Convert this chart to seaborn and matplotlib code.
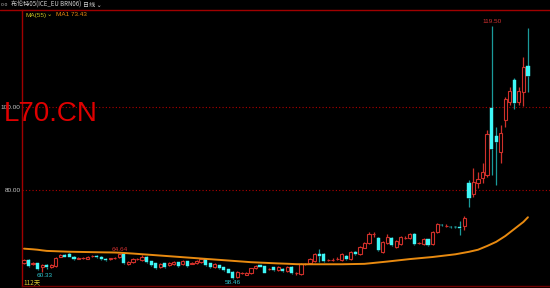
import numpy as np
import pandas as pd
import matplotlib
matplotlib.use("Agg")
import matplotlib.pyplot as plt
import seaborn as sns
from matplotlib.lines import Line2D

# ---------------- data ----------------
opens = [62.33, 63.13, 62.25, 62.33, 61.37, 61.92, 61.37, 61.68, 63.93, 64.34,
         64.58, 63.93, 63.45, 63.50, 63.44, 64.05, 64.17, 63.93, 63.44, 63.40,
         63.55, 63.78, 64.58, 62.17, 62.57, 63.25, 63.13, 63.78, 62.82, 62.33,
         61.37, 62.33, 61.85, 62.17, 62.57, 62.17, 62.82, 62.28, 62.33, 62.57,
         63.30, 62.33, 61.52, 61.92, 61.37, 60.89, 60.31, 59.11, 59.98, 59.52,
         59.93, 61.13, 61.92, 61.68, 60.85, 61.37, 60.72, 60.96, 60.48, 61.44,
         59.95, 59.76, 62.10, 62.41, 62.89, 64.58, 64.58, 63.08, 63.08, 63.30,
         63.13, 64.10, 63.37, 65.06, 64.58, 66.02, 67.23, 69.30, 68.43, 65.06,
         67.23, 68.43, 66.26, 66.99, 68.38, 68.43, 69.40, 67.20, 66.99, 68.19,
         66.99, 69.88, 71.62, 71.28, 71.20, 71.20, 71.20, 71.30, 81.69, 79.03,
         81.76, 82.90, 83.60, 99.87, 92.91, 89.16, 96.87, 101.30, 106.50, 101.30,
         103.70, 109.90]
highs = [63.40, 63.30, 62.60, 62.50, 62.10, 62.10, 62.20, 63.80, 64.60, 64.50,
         64.70, 64.00, 63.80, 63.80, 64.20, 64.40, 64.30, 64.00, 63.50, 63.70,
         63.90, 64.64, 64.60, 62.90, 63.60, 63.60, 64.30, 64.00, 63.00, 62.50,
         62.50, 62.50, 62.60, 62.80, 62.70, 63.20, 63.00, 62.60, 63.20, 63.60,
         63.50, 62.50, 62.40, 62.00, 61.50, 61.00, 60.50, 60.50, 60.30, 60.30,
         61.30, 61.90, 62.00, 61.80, 61.20, 61.50, 61.60, 61.10, 61.60, 61.60,
         60.30, 62.30, 62.50, 63.60, 64.80, 65.80, 64.70, 63.40, 63.50, 63.80,
         64.80, 64.30, 65.30, 65.20, 66.50, 67.50, 69.90, 69.90, 68.60, 67.70,
         69.30, 68.60, 67.90, 68.90, 68.80, 69.70, 69.60, 67.50, 68.40, 68.30,
         70.10, 72.00, 71.80, 71.70, 71.40, 71.40, 72.50, 73.70, 82.41, 85.30,
         84.30, 86.50, 94.40, 119.50, 95.20, 95.70, 102.40, 104.80, 107.00, 104.90,
         112.00, 119.00]
lows = [62.10, 61.50, 62.00, 60.70, 60.33, 61.00, 61.10, 61.50, 63.80, 63.80,
        63.80, 63.10, 63.30, 63.30, 63.30, 63.90, 63.60, 63.10, 62.90, 63.20,
        63.40, 63.60, 62.20, 62.00, 62.40, 63.10, 63.00, 62.40, 61.80, 60.90,
        61.20, 61.30, 61.70, 62.00, 61.50, 62.00, 61.50, 62.10, 62.20, 62.40,
        61.80, 61.30, 61.30, 60.90, 60.50, 59.90, 58.46, 58.90, 59.80, 59.40,
        59.80, 61.00, 61.40, 59.90, 60.70, 60.50, 60.50, 60.30, 60.30, 59.80,
        59.60, 59.60, 61.90, 62.20, 62.70, 62.65, 62.70, 62.90, 62.90, 63.10,
        63.00, 63.10, 63.20, 64.40, 64.40, 65.90, 67.10, 68.70, 65.30, 64.90,
        67.00, 66.50, 66.00, 66.80, 68.20, 68.30, 66.70, 67.00, 66.80, 66.50,
        66.80, 69.70, 71.30, 71.10, 70.90, 70.90, 69.20, 70.40, 75.90, 78.30,
        80.50, 81.70, 83.10, 83.60, 81.20, 86.50, 95.20, 100.50, 99.50, 100.50,
        100.20, 103.70]
closes = [63.13, 61.68, 62.40, 60.89, 61.92, 61.50, 61.92, 63.54, 64.34, 63.93,
          63.93, 63.30, 63.60, 63.60, 63.93, 64.15, 63.78, 63.30, 63.13, 63.50,
          63.65, 64.58, 62.33, 62.72, 63.37, 63.35, 63.93, 62.57, 62.00, 61.13,
          62.17, 61.52, 62.33, 62.57, 61.68, 62.96, 61.68, 62.38, 62.96, 63.30,
          61.93, 61.52, 62.17, 61.13, 60.72, 60.07, 58.72, 60.31, 60.08, 60.07,
          61.13, 61.68, 61.52, 60.07, 60.95, 60.72, 61.37, 60.48, 61.44, 60.00,
          60.05, 62.17, 62.20, 63.37, 64.58, 64.20, 62.89, 63.18, 63.18, 63.42,
          64.58, 63.37, 65.06, 64.58, 66.26, 67.23, 69.40, 69.45, 65.54, 67.47,
          68.67, 66.75, 67.71, 68.67, 68.48, 69.40, 66.99, 67.30, 68.19, 66.75,
          69.88, 71.81, 71.50, 71.40, 71.08, 71.08, 70.90, 73.30, 78.07, 81.93,
          82.65, 84.41, 93.40, 89.99, 91.47, 93.74, 101.93, 103.90, 101.04, 103.90,
          109.70, 107.50]
ma55 = [65.86, 65.78, 65.70, 65.60, 65.45, 65.32, 65.28, 65.24, 65.20, 65.16,
        65.12, 65.10, 65.08, 65.06, 65.04, 65.02, 65.00, 64.98, 64.96, 64.95,
        64.93, 64.88, 64.82, 64.75, 64.68, 64.60, 64.52, 64.44, 64.36, 64.28,
        64.20, 64.12, 64.04, 63.96, 63.88, 63.80, 63.72, 63.64, 63.56, 63.48,
        63.40, 63.32, 63.24, 63.16, 63.08, 63.00, 62.92, 62.84, 62.76, 62.68,
        62.60, 62.55, 62.50, 62.45, 62.40, 62.35, 62.30, 62.26, 62.22, 62.17,
        62.12, 62.11, 62.10, 62.10, 62.10, 62.10, 62.10, 62.10, 62.10, 62.10,
        62.10, 62.12, 62.14, 62.16, 62.18, 62.20, 62.31, 62.42, 62.53, 62.64,
        62.75, 62.87, 62.99, 63.11, 63.23, 63.35, 63.45, 63.55, 63.65, 63.75,
        63.85, 63.98, 64.11, 64.24, 64.37, 64.50, 64.70, 64.90, 65.10, 65.35,
        65.60, 66.05, 66.50, 67.00, 67.50, 68.20, 68.90, 69.75, 70.60, 71.45,
        72.30, 73.43]
y_ticks = [80, 100]
y_tick_labels = ["80.00", "100.00"]
n_days = len(closes)

df = pd.DataFrame({"day": np.arange(n_days), "open": opens, "high": highs,
                   "low": lows, "close": closes, "ma55": ma55})

# ---------------- styling ----------------
sns.set_theme(style="dark", rc={"axes.facecolor": "black", "figure.facecolor": "black"})
plt.rcParams["font.family"] = ["Liberation Sans", "DejaVu Sans"]
CJK = ["Noto Sans CJK SC", "DejaVu Sans"]

UP = "#d0302a"
DOWN = "#3ff7f7"
DOWN_WICK = "#1a9a9a"
AXIS_RED = "#a00000"
SMALL = 4.6

fig = plt.figure(figsize=(5.5, 2.88), dpi=100)
ax = fig.add_axes([22 / 550, 2 / 288, 528 / 550, 276 / 288])
ax.set_facecolor("black")

# gridlines
for yv in y_ticks:
    ax.axhline(yv, color="#b00000", lw=0.8, ls=(0, (1, 2)), zorder=0)

up = df[df["close"] >= df["open"]]
dn = df[df["close"] < df["open"]]
w = 0.7

# wicks
for sub, col in ((up, UP), (dn, DOWN_WICK)):
    top = np.maximum(sub["open"], sub["close"])
    bot = np.minimum(sub["open"], sub["close"])
    ax.vlines(sub["day"], top, sub["high"], color=col, lw=0.9, zorder=2)
    ax.vlines(sub["day"], sub["low"], bot, color=col, lw=0.9, zorder=2)

# bodies
ax.bar(up["day"], np.maximum(up["close"] - up["open"], 0.08), bottom=up["open"],
       width=w, facecolor="black", edgecolor=UP, linewidth=0.8, zorder=3)
ax.bar(dn["day"], np.maximum(dn["open"] - dn["close"], 0.08), bottom=dn["close"],
       width=w, facecolor=DOWN, edgecolor=DOWN, linewidth=0.3, zorder=3)

# moving average
sns.lineplot(data=df, x="day", y="ma55", ax=ax, color="#e88a10", lw=1.4, zorder=4,
             legend=False)

ax.set_xlim(-0.44, 115.86)
ax.set_ylim(56.86, 123.38)
ax.set_xlabel("")
ax.set_ylabel("")
ax.set_xticks([])
ax.set_yticks(y_ticks)
ax.set_yticklabels(y_tick_labels)
ax.tick_params(axis="y", length=0, pad=1.0, labelsize=SMALL, labelcolor="#c8c8c8")
for t in ax.get_yticklabels():
    t.set_zorder(10)
ax.grid(False)
for s in ("top", "right"):
    ax.spines[s].set_visible(False)
ax.spines["left"].set_color(AXIS_RED)
ax.spines["left"].set_linewidth(1.0)
ax.spines["bottom"].set_color("#700000")
ax.spines["bottom"].set_linewidth(1.0)

# annotations of extremes
i_max = int(np.argmax(highs))
ax.text(i_max, highs[i_max] + 0.4, f"{highs[i_max]:.2f}", color="#d03030",
        fontsize=SMALL, ha="center", va="bottom")
ax.text(21, highs[21] + 0.5, f"{highs[21]:.2f}", color="#d03030", fontsize=SMALL,
        ha="center", va="bottom")
ax.text(4.5, lows[4] - 0.3, f"{lows[4]:.2f}", color="#30c8d0", fontsize=SMALL,
        ha="center", va="top")
i_min = int(np.argmin(lows))
ax.text(i_min, lows[i_min] - 0.2, f"{lows[i_min]:.2f}", color="#30c8d0",
        fontsize=SMALL, ha="center", va="top")

# header and labels in figure space
fig.add_artist(Line2D([0, 1], [1 - 10 / 288, 1 - 10 / 288], color=AXIS_RED, lw=1.0,
                      transform=fig.transFigure))
fig.text(0.5 / 550, 1 - 5 / 288, "o-o", color="#b0b0b0", fontsize=3.6, va="center")
fig.text(11 / 550, 1 - 5 / 288, "布伦特05(ICE_EU BRN06)", color="#d0d0d0", fontsize=4.4,
         va="center", family=CJK)
fig.text(83 / 550, 1 - 5 / 288, "日线 ⌄", color="#d0d0d0", fontsize=4.4, va="center",
         family=CJK)
fig.text(25 / 550, 1 - 15 / 288, "MA(55)", color="#c8c020", fontsize=SMALL, va="center")
fig.text(47 / 550, 1 - 15 / 288, "⌄", color="#c8c020", fontsize=SMALL, va="center",
         family=["DejaVu Sans"])
fig.text(56 / 550, 1 - 15 / 288, f"MA1 {ma55[-1]:.2f}", color="#e88a10", fontsize=SMALL,
         va="center")
fig.text(23 / 550, 1 - 282 / 288, f"{n_days}天", color="#d8c830", fontsize=SMALL,
         va="center", family=CJK)
fig.text(4 / 550, 1 - 114 / 288, "L70.CN", color="#e00000", fontsize=20,
         va="center", family=["Liberation Sans"])

fig.savefig("out.png", dpi=100, facecolor="black")
